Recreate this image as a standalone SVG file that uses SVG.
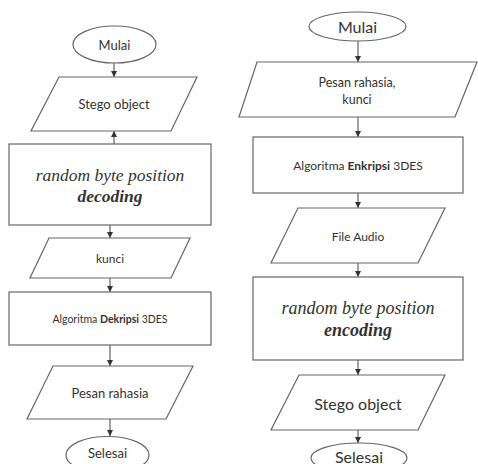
<svg xmlns="http://www.w3.org/2000/svg" width="478" height="464" viewBox="0 0 478 464">
<defs>
<marker id="ah" viewBox="0 0 10 10" refX="10" refY="5" markerWidth="6" markerHeight="6" orient="auto" markerUnits="userSpaceOnUse">
<path d="M0,0 L10,5 L0,10 Z" fill="#333"/>
</marker>
<style>
.s{fill:#fff;stroke:#666;stroke-width:1.2}
.t{font-family:Lato,"Open Sans","Liberation Sans",sans-serif;fill:#333;text-anchor:middle;dominant-baseline:central}
.r{font-family:"Liberation Serif","DejaVu Serif",serif;font-style:italic;fill:#333;text-anchor:middle;dominant-baseline:central}
.c{stroke:#444;stroke-width:1;fill:none;marker-end:url(#ah)}
</style>
</defs>
<rect width="478" height="464" fill="#fff"/>
<g id="connectors">
<line class="c" x1="114" y1="63" x2="114" y2="77"/>
<line class="c" x1="114" y1="144" x2="114" y2="131"/>
<line class="c" x1="110" y1="225" x2="110" y2="238"/>
<line class="c" x1="110" y1="278" x2="110" y2="292"/>
<line class="c" x1="110" y1="345" x2="110" y2="366"/>
<line class="c" x1="110" y1="419" x2="110" y2="436"/>
<line class="c" x1="358" y1="41" x2="358" y2="62"/>
<line class="c" x1="358" y1="117" x2="358" y2="137"/>
<line class="c" x1="358" y1="193" x2="358" y2="208"/>
<line class="c" x1="358" y1="263" x2="358" y2="277"/>
<line class="c" x1="358" y1="360" x2="358" y2="375"/>
<line class="c" x1="358" y1="430" x2="358" y2="443"/>
</g>
<g id="l_mulai"><ellipse class="s" cx="114.5" cy="44.5" rx="41.5" ry="18.5"/><text class="t" x="114.5" y="44.5" font-size="13">Mulai</text></g>
<g id="l_stego"><polygon class="s" points="59,77 197,77 171,131 31,131"/><text class="t" x="114" y="104" font-size="13">Stego object</text></g>
<g id="l_decode"><rect class="s" x="9" y="144" width="202" height="81"/><text class="r" x="110" y="175" font-size="17.5">random byte position</text><text class="r" x="110" y="196" font-size="17.5" font-weight="bold">decoding</text></g>
<g id="l_kunci"><polygon class="s" points="49,238 190,238 171,278 30,278"/><text class="t" x="110" y="258" font-size="12">kunci</text></g>
<g id="l_dekripsi"><rect class="s" x="9" y="292" width="202" height="53"/><text class="t" x="110" y="319" font-size="10.5">Algoritma  <tspan font-weight="bold">Dekripsi</tspan> 3DES</text></g>
<g id="l_pesan"><polygon class="s" points="53,366 193,366 166,419 27,419"/><text class="t" x="110" y="393" font-size="13">Pesan rahasia</text></g>
<g id="l_selesai"><ellipse class="s" cx="107.5" cy="455" rx="41.5" ry="18.5"/><text class="t" x="107.5" y="453" font-size="13">Selesai</text></g>
<g id="r_mulai"><ellipse class="s" cx="357.5" cy="26.5" rx="48.5" ry="14.5"/><text class="t" x="357.5" y="26.5" font-size="16">Mulai</text></g>
<g id="r_pesan"><polygon class="s" points="257,62 477,62 455,117 239,117" /><text class="t" x="357" y="82" font-size="12.5">Pesan rahasia,</text><text class="t" x="357" y="99" font-size="12.5">kunci</text></g>
<g id="r_enkripsi"><rect class="s" x="253" y="137" width="210" height="56"/><text class="t" x="358" y="165" font-size="12">Algoritma <tspan font-weight="bold">Enkripsi</tspan> 3DES</text></g>
<g id="r_audio"><polygon class="s" points="298,208 445,208 418,263 271,263"/><text class="t" x="358" y="236" font-size="12">File Audio</text></g>
<g id="r_encode"><rect class="s" x="253" y="277" width="210" height="83"/><text class="r" x="358" y="308" font-size="18">random byte position</text><text class="r" x="358" y="330" font-size="18" font-weight="bold">encoding</text></g>
<g id="r_stego"><polygon class="s" points="299,375 445,375 418,430 271,430"/><text class="t" x="358" y="403" font-size="16">Stego object</text></g>
<g id="r_selesai"><ellipse class="s" cx="359" cy="458" rx="48" ry="15"/><text class="t" x="359" y="456" font-size="16">Selesai</text></g>
</svg>
